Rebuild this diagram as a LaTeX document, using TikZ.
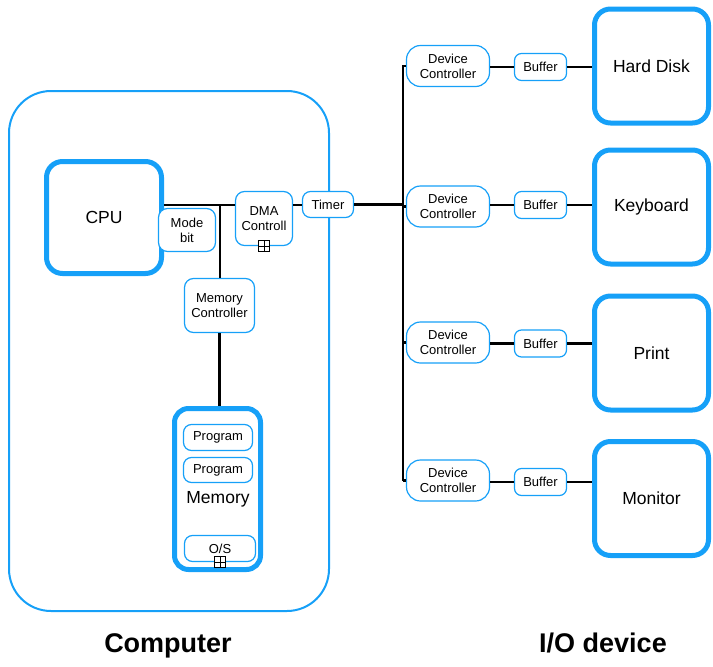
\documentclass[tikz,border=0pt]{standalone}
\usepackage{fontspec}
\setmainfont{Liberation Sans}
\definecolor{sblue}{RGB}{22,160,248}
\begin{document}
\begin{tikzpicture}[x=1pt,y=-1pt,
  thickbox/.style={draw=sblue, line width=5pt, rounded corners=16pt, fill=white, font=\fontsize{17.5}{21}\selectfont, align=center, inner sep=0pt, minimum width=114pt, minimum height=114pt},
  smallbox/.style={draw=sblue, line width=1.2pt, rounded corners=9pt, fill=white, font=\fontsize{13}{15}\selectfont, align=center, inner sep=0pt},
  devctrl/.style={smallbox, rounded corners=14pt, minimum width=83pt, minimum height=41pt},
  bufbox/.style={smallbox, rounded corners=7pt, minimum width=52pt, minimum height=27pt},
  wire/.style={line width=2.4pt, black},
  sqplus/.style={draw=black, fill=white, line width=0.8pt, minimum size=11pt, inner sep=0pt,
    path picture={\draw[line width=0.8pt] (path picture bounding box.north) -- (path picture bounding box.south) (path picture bounding box.west) -- (path picture bounding box.east);}},
  biglabel/.style={font=\fontsize{27}{32}\selectfont\bfseries, inner sep=0pt, anchor=base}]
\useasboundingbox (0,0) rectangle (713,667);

% Computer enclosure
\node[draw=sblue, line width=2pt, rounded corners=42pt, minimum width=320pt, minimum height=520pt, inner sep=0pt] (comp) at (169,351) {};

% CPU and neighbours
\node[thickbox, minimum width=115pt, minimum height=112pt] (cpu) at (104,217.5) {CPU};
\node[smallbox, minimum width=57pt, minimum height=43pt] (mode) at (187,230) {Mode\\bit};
\node[smallbox, minimum width=57pt, minimum height=54pt] (dma) at (264,218.5) {DMA\\Controll};
\node[sqplus] (dmasq) at (dma.south) {};
\node[smallbox, rounded corners=8pt, minimum width=51pt, minimum height=26pt] (timer) at (328,204.5) {Timer};
\node[smallbox, minimum width=70pt, minimum height=54pt] (memctrl) at (219.5,305.5) {Memory\\Controller};

% Memory
\node[thickbox, rounded corners=14pt, minimum width=86pt, minimum height=161pt] (mem) at (217.5,489) {};
\node[smallbox, rounded corners=8pt, minimum width=69pt, minimum height=26pt] (prog1) at (218,437.5) {Program};
\node[smallbox, rounded corners=8pt, minimum width=69pt, minimum height=25pt] (prog2) at (218,470) {Program};
\node[font=\fontsize{17.5}{21}\selectfont, inner sep=0pt] (memlbl) at (218,499) {Memory};
\node[smallbox, rounded corners=8pt, minimum width=71pt, minimum height=26pt] (os) at (220,548.5) {O/S};
\node[sqplus] (ossq) at (os.south) {};

% Bus
\coordinate (bustop) at (403,65);
\coordinate (busbot) at (403,480.5);
\coordinate (j) at (220,205);

% I/O side
\node[devctrl] (dc1) at (448,66) {Device\\Controller};
\node[devctrl] (dc2) at (448,206.5) {Device\\Controller};
\node[devctrl] (dc3) at (448,342.5) {Device\\Controller};
\node[devctrl] (dc4) at (448,480.5) {Device\\Controller};

\node[bufbox] (b1) at (540.5,67) {Buffer};
\node[bufbox] (b2) at (540.5,205) {Buffer};
\node[bufbox] (b3) at (540.5,343.5) {Buffer};
\node[bufbox] (b4) at (540.5,482) {Buffer};

\node[thickbox] (hd) at (651.5,66) {Hard Disk};
\node[thickbox] (kb) at (651.5,207) {Keyboard};
\node[thickbox] (pr) at (651.5,353) {Print};
\node[thickbox] (mo) at (651.5,498.5) {Monitor};

% Wires
\draw[wire] (j -| cpu.east) -- (j -| dma.west);
\draw[wire] (j) -- (j |- memctrl.north);
\draw[wire] (j -| dma.east) -- (j -| timer.west);
\draw[wire] (timer.east) -- (timer.east -| bustop);
\draw[wire] (memctrl.south) -- (memctrl.south |- mem.north);
\draw[wire] (bustop) -- (busbot);
\foreach \d/\b/\v in {dc1/b1/hd, dc2/b2/kb, dc3/b3/pr, dc4/b4/mo} {
  \draw[wire] (\d.west -| bustop) -- (\d.west);
  \draw[wire] (\b.west -| \d.east) -- (\b.west);
  \draw[wire] (\b.east) -- (\b.east -| \v.west);
}

% Titles
\node[biglabel] (complbl) at (168,652) {Computer};
\node[biglabel] (iolbl) at (603,652) {I/O device};
\end{tikzpicture}
\end{document}
